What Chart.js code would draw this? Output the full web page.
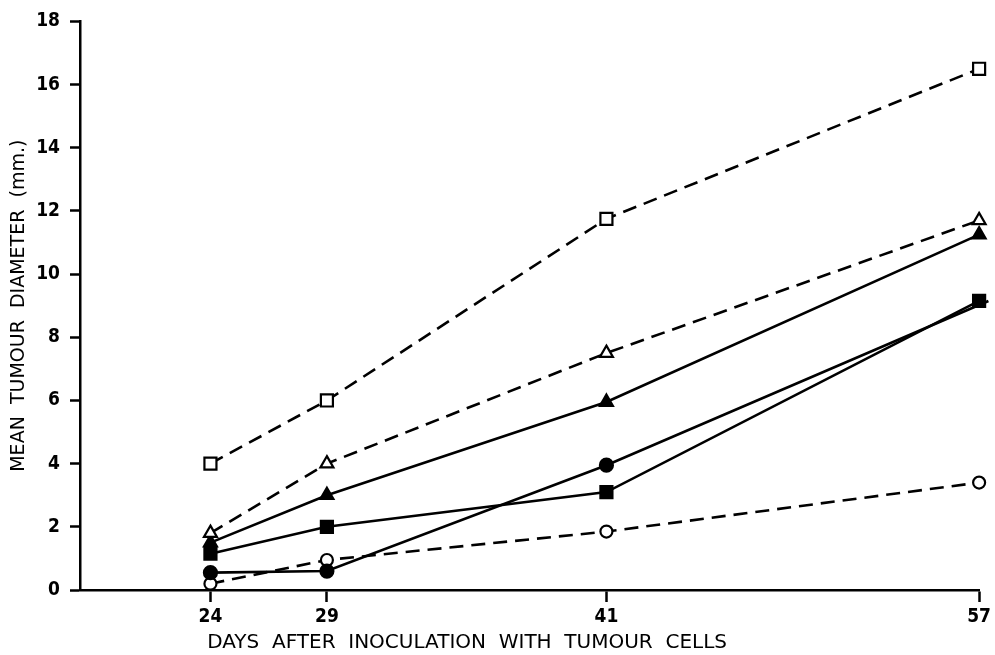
<!DOCTYPE html>
<html><head><meta charset="utf-8">
<script src="https://cdn.jsdelivr.net/npm/chart.js@4/dist/chart.umd.min.js"></script>
<style>html,body{margin:0;padding:0;background:#fff}#wrap{width:995px;height:655px}</style>
</head><body><div id="wrap"><canvas id="c" width="995" height="655"></canvas></div>
<script>
const days = [24, 29, 41, 57];
const tickDays = [24, 29, 41, 57];
const yTicks = [0, 2, 4, 6, 8, 10, 12, 14, 16, 18];
const openSquare = [4.0, 6.0, 11.75, 16.5];
const openTriangle = [1.8, 4.0, 7.5, 11.7];
const filledTriangle = [1.5, 3.0, 5.95, 11.25];
const filledSquare = [1.15, 2.0, 3.1, 9.15];
const filledCircleDays = [24, 29, 41, 57.4];
const filledCircle = [0.55, 0.6, 3.95, 9.15];
const openCircle = [0.2, 0.95, 1.85, 3.4];
const xTitle = 'DAYS  AFTER  INOCULATION  WITH  TUMOUR  CELLS';
const yTitle = 'MEAN  TUMOUR  DIAMETER  (mm.)';

function pts(xs, ys){ return xs.map((x,i)=>({x:x, y:ys[i]})); }
function ds(data, style, filled, dashed, r){
  return {data:data, borderColor:'#000', borderWidth:2.6, borderDash: dashed?[14,8]:[],
    pointStyle:style, pointRadius:r, pointHoverRadius:r,
    pointBackgroundColor: filled?'#000':'#fff', pointBorderColor:'#000', pointBorderWidth:2.2,
    fill:false, tension:0, clip:false};
}
const TICKFONT = '"DejaVu Sans Condensed", "DejaVu Sans", sans-serif';
const TITLEFONT = '"DejaVu Sans", sans-serif';
const pad = '\u00A0'.repeat(20);
new Chart(document.getElementById('c'), {
  type:'line',
  data:{datasets:[
    ds(pts(days, openSquare), 'rect', false, true, 8.5),
    ds(pts(days, openTriangle), 'triangle', false, true, 7.5),
    ds(pts(days, filledTriangle), 'triangle', true, false, 7.5),
    ds(pts(days, filledSquare), 'rect', true, false, 8.5),
    ds(pts(filledCircleDays, filledCircle), 'circle', true, false, 6.5),
    ds(pts(days, openCircle), 'circle', false, true, 6)
  ]},
  options:{
    responsive:false, animation:false, events:[],
    layout:{padding:{top:18, right:15, left:0, bottom:0}},
    plugins:{legend:{display:false}, tooltip:{enabled:false}},
    scales:{
      x:{type:'linear', min:18.4, max:57,
        afterBuildTicks: s => { s.ticks = tickDays.map(v=>({value:v})); },
        afterFit: s => { s.height = 65; },
        grid:{drawOnChartArea:false, drawTicks:true, tickLength:12, tickWidth:2.5, color:'#000'},
        border:{display:true, color:'#000', width:2.5},
        ticks:{color:'#000', padding:4, autoSkip:false, maxRotation:0, font:{family:TICKFONT, size:19, weight:'bold'}},
        title:{display:true, align:'start', text:pad + xTitle, color:'#000', padding:{top:0,bottom:0}, font:{family:TITLEFONT, size:20}}
      },
      y:{type:'linear', min:0, max:18,
        afterBuildTicks: s => { s.ticks = yTicks.map(v=>({value:v})); },
        afterFit: s => { s.width = 80; },
        grid:{drawOnChartArea:false, drawTicks:true, tickLength:10, tickWidth:2.5, color:'#000'},
        border:{display:true, color:'#000', width:2.5},
        ticks:{color:'#000', padding:10, font:{family:TICKFONT, size:19, weight:'bold'}},
        title:{display:true, text:yTitle, color:'#000', padding:{top:8,bottom:0}, font:{family:TITLEFONT, size:19}}
      }
    }
  }
});
</script></body></html>
